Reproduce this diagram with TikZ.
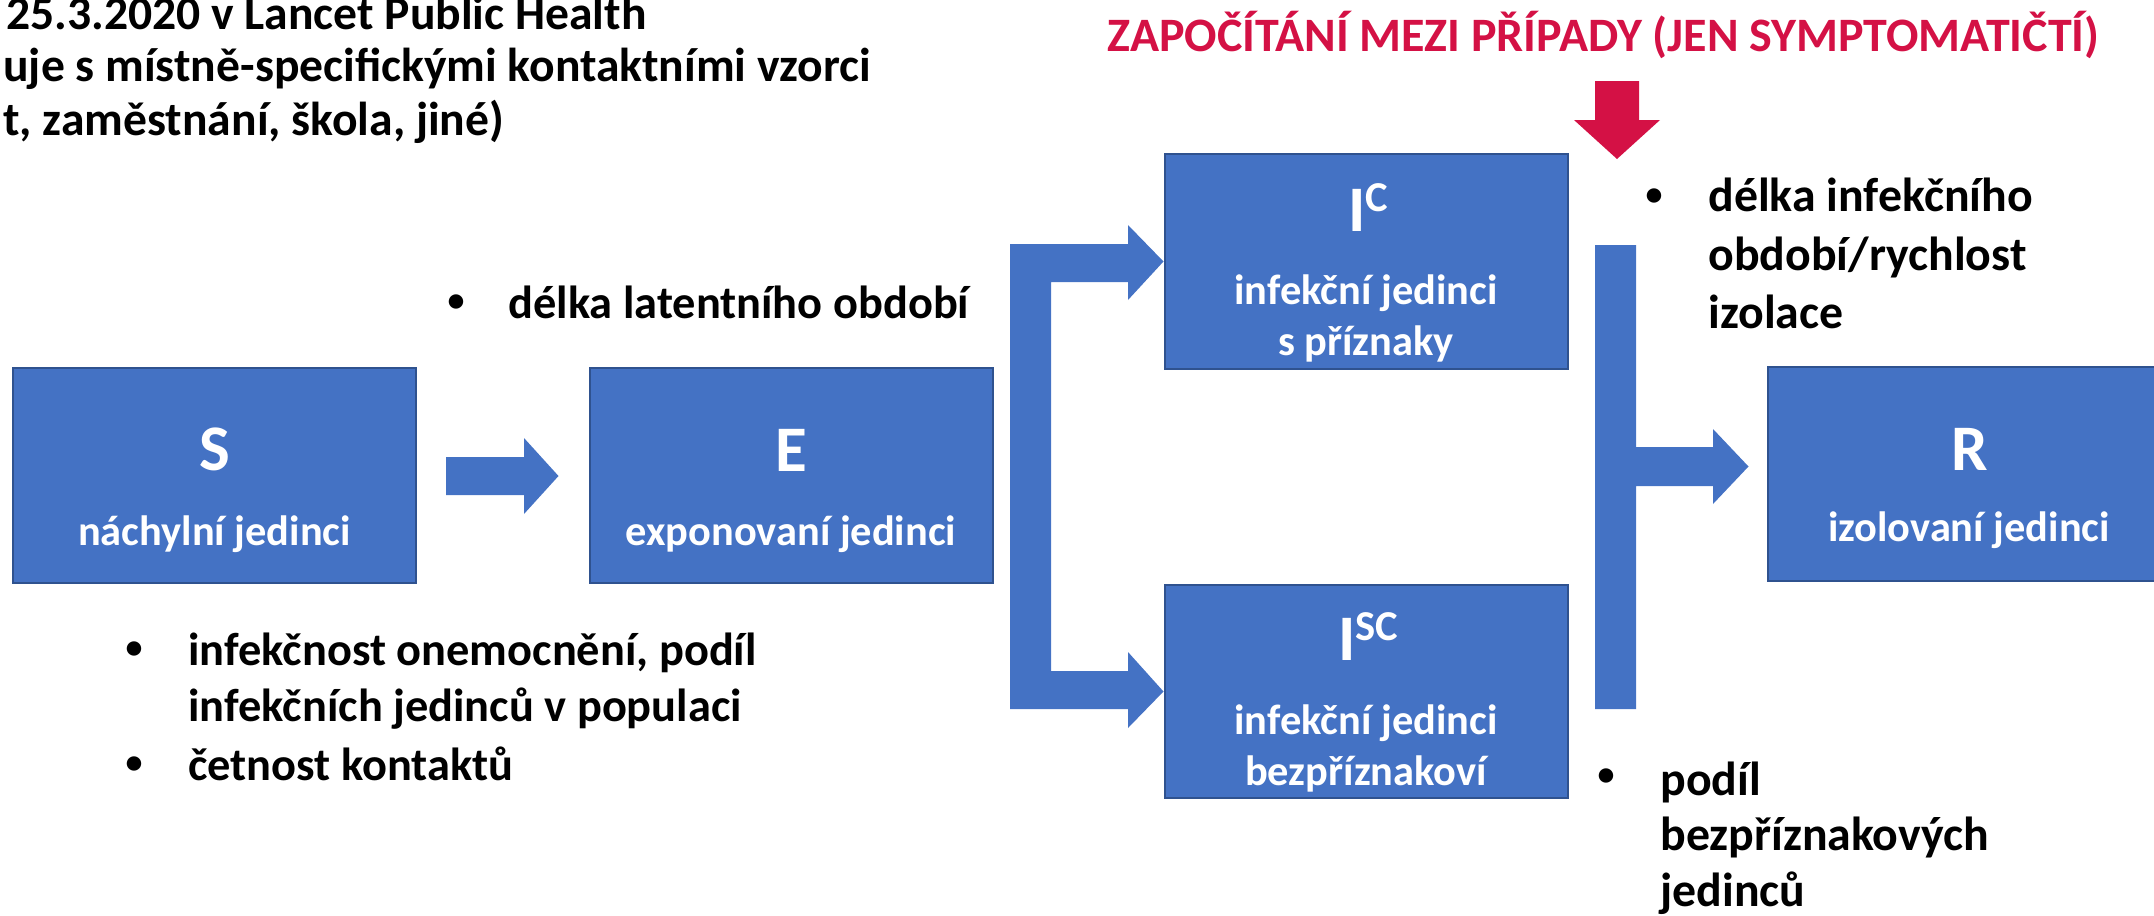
\documentclass[tikz,border=0pt]{standalone}
\usepackage{fontspec}
\setmainfont{Carlito}
\usetikzlibrary{calc}
\definecolor{boxblue}{HTML}{4472C4}
\definecolor{boxborder}{HTML}{2F528F}
\definecolor{redc}{RGB}{212,17,69}
\begin{document}
\begin{tikzpicture}[x=0.5pt,y=-0.5pt,
  box/.style={draw=boxborder, line width=1pt, fill=boxblue, inner sep=0pt, minimum width=201.5pt, minimum height=107.5pt},
  big/.style={text=white, font=\fontsize{32.5}{33}\selectfont\bfseries, anchor=base, inner sep=0pt},
  desc/.style={text=white, font=\fontsize{21.2}{22}\selectfont\bfseries, anchor=base, inner sep=0pt},
  bl/.style={text=black, font=\fontsize{23.9}{24}\selectfont\bfseries, anchor=base west, inner sep=0pt},
  bls/.style={text=black, font=\fontsize{23.2}{24}\selectfont\bfseries, anchor=base west, inner sep=0pt},
  bul/.style={text=black, font=\fontsize{17}{17}\selectfont\bfseries, anchor=center, inner sep=0pt},
  ttl/.style={text=black, font=\fontsize{23.8}{24}\selectfont\bfseries, anchor=base west, inner sep=0pt},
  redt/.style={text=redc, font=\fontsize{24}{24}\selectfont\bfseries, anchor=base west, inner sep=0pt},
  blockarrow/.style={fill=boxblue, draw=none},
  redarrow/.style={fill=redc, draw=none}]
\useasboundingbox (0,0) rectangle (2154,916);
\clip (0,0) rectangle (2154,916);

% boxes
\node[box] (S) at (214.5,475.5) {};
\node[box] (E) at (791,475.5) {};
\node[box] (IC) at (1366,261.5) {};
\node[box, minimum height=106.5pt] (ISC) at (1366,691.5) {};
\node[box, minimum height=107pt] (R) at (1969,474) {};

% block arrows
\fill[blockarrow] ($(S.east)+(29,-18.5)$) -- ++(78,0) -- ++(0,-19) -- ($(E.west)+(-30,0.5)$) -- ($(S.east)+(107,38.5)$) -- ++(0,-19) -- ($(S.east)+(29,19.5)$) -- cycle;

\fill[blockarrow] (1010,244) -- (1128,244) -- (1128,225) -- (IC.west) -- (1128,300) -- (1128,282) -- (1051,282)
  -- (1051,671) -- (1128,671) -- (1128,652) -- (ISC.west) -- (1128,728) -- (1128,709) -- (1010,709) -- cycle;

\coordinate (Rtip) at ($(R.west)+(-18,-7.5)$);
\fill[blockarrow] (1595,245) -- (1636,245) -- (1636,447) -- (1713,447) -- (1713,429) -- (Rtip) -- (1713,504) -- (1713,486)
  -- (1636,486) -- (1636,709) -- (1595,709) -- cycle;

\coordinate (redtip) at (1617,159);
\fill[redarrow] (1595,81) -- (1639,81) -- (1639,120) -- (1660,120) -- (redtip) -- (1574,120) -- (1595,120) -- cycle;

% box texts
\node[big] (St) at (214.5,470.7) {S};
\node[desc] (Sd) at (214.5,545) {náchylní jedinci};
\node[big] (Et) at (791,471) {E};
\node[desc] (Ed) at (791,545) {exponovaní jedinci};
\node[big] (ICt) at (1368,231.7) {I\raisebox{9.9pt}{\fontsize{21.3}{22}\selectfont C}};
\node[desc] (ICd1) at (1366,304.8) {infekční jedinci};
\node[desc] (ICd2) at (1366,355.5) {s příznaky};
\node[big] (ISCt) at (1368,660.4) {I\raisebox{9.9pt}{\fontsize{21.3}{22}\selectfont SC}};
\node[desc] (ISCd1) at (1366,734) {infekční jedinci};
\node[desc] (ISCd2) at (1366,785) {bezpříznakoví};
\node[big] (Rt) at (1970,470.7) {R};
\node[desc] (Rd) at (1969,541.7) {izolovaní jedinci};

% top-left title
\node[ttl] (t1) at (6,29) {25.3.2020 v Lancet Public Health};
\node[ttl] (t2) at (3,81.7) {uje s místně-specifickými kontaktními vzorci};
\node[ttl] (t3) at (3,135) {t, zaměstnání, škola, jiné)};

% red title
\node[redt] (red) at (1107,51) {ZAPOČÍTÁNÍ MEZI PŘÍPADY (JEN SYMPTOMATIČTÍ)};

% bullets
\node[bul] (bu1) at (456,303) {•};
\node[bls] (l1) at (508,318) {délka latentního období};

\node[bul] (bu2) at (134,650) {•};
\node[bls] (a1) at (188,665) {infekčnost onemocnění, podíl};
\node[bls] (a2) at (188,721.7) {infekčních jedinců v populaci};
\node[bul] (bu3) at (134,765) {•};
\node[bls] (a3) at (188,780) {četnost kontaktů};

\node[bul] (bu4) at (1654,196.7) {•};
\node[bl] (r1) at (1708,211.7) {délka infekčního};
\node[bl] (r2) at (1708,270) {období/rychlost};
\node[bl] (r3) at (1708,328) {izolace};

\node[bul] (bu5) at (1606,776.7) {•};
\node[bl] (p1) at (1660,795) {podíl};
\node[bl] (p2) at (1660,850) {bezpříznakových};
\node[bl] (p3) at (1660,906.7) {jedinců};
\end{tikzpicture}
\end{document}
